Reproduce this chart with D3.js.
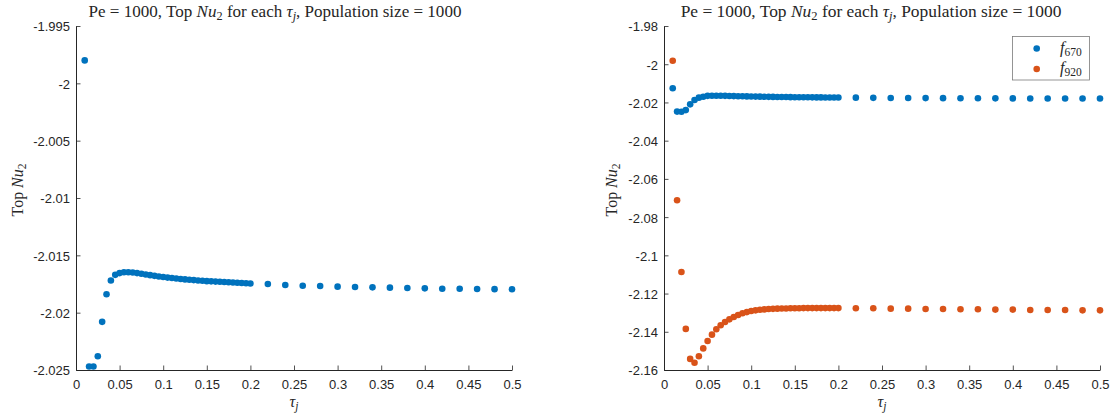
<!DOCTYPE html>
<html>
<head>
<meta charset="utf-8">
<script src="https://cdn.jsdelivr.net/npm/d3@7"></script>
<style>
  body { margin: 0; background: #fff; }
  svg { display: block; }
  .tick text { font-family: "Liberation Sans", Arial, sans-serif; font-size: 13px; fill: #262626; }
  .tex { font-family: "Liberation Serif", "DejaVu Serif", serif; fill: #262626; }
</style>
</head>
<body>
<svg id="chart" width="1112" height="415"></svg>
<script>
// Relaxation time values tau_j
const tau = [
  0.01, 0.015, 0.02, 0.025, 0.03, 0.035, 0.04, 0.045, 0.05, 0.055,
  0.06, 0.065, 0.07, 0.075, 0.08, 0.085, 0.09, 0.095, 0.1, 0.105,
  0.11, 0.115, 0.12, 0.125, 0.13, 0.135, 0.14, 0.145, 0.15, 0.155,
  0.16, 0.165, 0.17, 0.175, 0.18, 0.185, 0.19, 0.195, 0.2,
  0.22, 0.24, 0.26, 0.28, 0.3, 0.32, 0.34, 0.36, 0.38, 0.4,
  0.42, 0.44, 0.46, 0.48, 0.5
];

// Best Nu2 over all candidate functions, per tau_j
const topNu = [
  -1.9980, -2.0247, -2.0247, -2.0238, -2.0208, -2.0184, -2.0172, -2.0167, -2.01655, -2.01648,
  -2.01647, -2.01650, -2.01655, -2.01661, -2.01667, -2.01673, -2.01679, -2.01684, -2.01689, -2.01694,
  -2.01698, -2.01702, -2.01706, -2.01710, -2.01713, -2.01716, -2.01719, -2.01722, -2.01725, -2.01727,
  -2.01729, -2.01731, -2.01733, -2.01735, -2.01737, -2.01739, -2.01741, -2.01743, -2.01745,
  -2.01750, -2.01759, -2.01765, -2.01767, -2.01773, -2.01776, -2.01779, -2.01782, -2.01785, -2.01788,
  -2.01791, -2.01792, -2.01794, -2.01795, -2.01796
];

// Nu2 for function f670
const f670 = [
  -2.0126, -2.0248, -2.0249, -2.0240, -2.0210, -2.0187, -2.0175, -2.0170, -2.01655, -2.01648,
  -2.01647, -2.01650, -2.01655, -2.01661, -2.01667, -2.01673, -2.01679, -2.01684, -2.01689, -2.01694,
  -2.01698, -2.01702, -2.01706, -2.01710, -2.01713, -2.01716, -2.01719, -2.01722, -2.01725, -2.01727,
  -2.01729, -2.01731, -2.01733, -2.01735, -2.01737, -2.01739, -2.01741, -2.01743, -2.01745,
  -2.01750, -2.01759, -2.01765, -2.01767, -2.01773, -2.01776, -2.01779, -2.01782, -2.01785, -2.01788,
  -2.01791, -2.01792, -2.01794, -2.01795, -2.01796
];

// Nu2 for function f920
const f920 = [
  -1.9982, -2.0712, -2.1087, -2.1385, -2.1542, -2.1562, -2.1528, -2.1487, -2.1448, -2.1415,
  -2.1387, -2.1366, -2.1349, -2.1335, -2.1323, -2.1312, -2.1303, -2.1297, -2.1291, -2.1288,
  -2.1285, -2.1283, -2.1281, -2.1280, -2.1279, -2.1278, -2.1278, -2.1277, -2.1277, -2.1277,
  -2.1276, -2.1276, -2.1276, -2.1276, -2.1276, -2.1276, -2.1276, -2.1276, -2.1276,
  -2.1277, -2.1277, -2.1279, -2.1279, -2.1281, -2.1281, -2.1282, -2.1282, -2.1284, -2.1284,
  -2.1286, -2.1286, -2.1286, -2.1288, -2.1288
];

const xTicks = [0, 0.05, 0.1, 0.15, 0.2, 0.25, 0.3, 0.35, 0.4, 0.45, 0.5];
const yTicksLeft = [-2.025, -2.02, -2.015, -2.01, -2.005, -2, -1.995];
const yTicksRight = [-2.16, -2.14, -2.12, -2.1, -2.08, -2.06, -2.04, -2.02, -2, -1.98];

const seriesNames = ["670", "920"];
const colors = ["#0072BD", "#D95319"];

const svg = d3.select("#chart");
const axisColor = "#262626";
const fmt = d => String(+d.toFixed(4));

// Writes "Pe = 1000, Top Nu_2 for each tau_j, Population size = 1000"
function titleText(sel) {
  sel.append("tspan").text("Pe = 1000, Top ");
  sel.append("tspan").attr("font-style", "italic").text("Nu");
  sel.append("tspan").attr("font-size", "0.72em").attr("dy", 3).text("2");
  sel.append("tspan").attr("dy", -3).text(" for each ");
  sel.append("tspan").attr("font-style", "italic").text("τ");
  sel.append("tspan").attr("font-style", "italic").attr("font-size", "0.72em").attr("dy", 3).text("j");
  sel.append("tspan").attr("dy", -3).text(", Population size = 1000");
}

// Scale a text element's font so its rendered width equals target
function fitWidth(t, base, target) {
  const w = t.node().getComputedTextLength();
  t.attr("font-size", base * target / w);
}

function drawPanel(p) {
  const x = d3.scaleLinear().domain([0, 0.5]).range([p.x0, p.x1]);
  const y = d3.scaleLinear().domain(p.yDomain).range([p.y1, p.y0]);
  const g = svg.append("g");

  // Bottom axis, ticks pointing inward
  const ax = g.append("g")
    .attr("transform", `translate(0,${p.y1})`)
    .call(d3.axisBottom(x).tickValues(xTicks).tickFormat(fmt).tickSizeInner(-4.5).tickSizeOuter(0).tickPadding(10));
  // Left axis, ticks pointing inward
  const ay = g.append("g")
    .attr("transform", `translate(${p.x0},0)`)
    .call(d3.axisLeft(y).tickValues(p.yTicks).tickFormat(fmt).tickSizeInner(-4.5).tickSizeOuter(0).tickPadding(6));
  [ax, ay].forEach(a => {
    a.select(".domain").attr("stroke", axisColor).attr("stroke-width", 1);
    a.selectAll(".tick line").attr("stroke", axisColor).attr("stroke-width", 0.8);
    a.selectAll(".tick text").attr("fill", axisColor);
  });
  ay.selectAll(".tick text").attr("dy", "0.38em");

  // Markers
  p.series.forEach(s => {
    g.append("g").selectAll("circle")
      .data(tau.map((t, k) => [t, s.values[k]]))
      .join("circle")
      .attr("cx", d => x(d[0]))
      .attr("cy", d => y(d[1]))
      .attr("r", 3.3)
      .attr("fill", s.color);
  });

  // Title
  const title = g.append("text").attr("class", "tex")
    .attr("x", p.titleX).attr("y", 17)
    .attr("text-anchor", "middle").attr("font-size", 15);
  titleText(title);
  fitWidth(title, 15, p.titleW);

  // x label
  const xl = g.append("text").attr("class", "tex")
    .attr("x", (p.x0 + p.x1) / 2).attr("y", 407)
    .attr("text-anchor", "middle").attr("font-size", 16);
  xl.append("tspan").attr("font-style", "italic").text("τ");
  xl.append("tspan").attr("font-style", "italic").attr("font-size", "0.72em").attr("dy", 3).text("j");

  // y label
  const yl = g.append("text").attr("class", "tex")
    .attr("transform", `translate(${p.ylabX},190) rotate(-90)`)
    .attr("text-anchor", "middle").attr("font-size", 15);
  yl.append("tspan").text("Top ");
  yl.append("tspan").attr("font-style", "italic").text("Nu");
  yl.append("tspan").attr("font-size", "0.72em").attr("dy", 3).text("2");
  fitWidth(yl, 15, 53);

  return { x, y, g };
}

drawPanel({
  x0: 76, x1: 512, y0: 26, y1: 370,
  yDomain: [-2.025, -1.995], yTicks: yTicksLeft,
  titleX: 275, titleW: 373, ylabX: 23,
  series: [{ values: topNu, color: colors[0] }]
});

drawPanel({
  x0: 664, x1: 1100, y0: 26, y1: 370,
  yDomain: [-2.16, -1.98], yTicks: yTicksRight,
  titleX: 871, titleW: 381, ylabX: 617,
  series: [{ values: f670, color: colors[0] }, { values: f920, color: colors[1] }]
});

// Legend
const lg = svg.append("g");
lg.append("rect")
  .attr("x", 1012.5).attr("y", 36.5).attr("width", 77).attr("height", 43.5)
  .attr("fill", "#fff").attr("stroke", "#7a7a7a").attr("stroke-width", 0.8);
seriesNames.forEach((n, i) => {
  const cy = 48.5 + i * 20.5;
  lg.append("circle").attr("cx", 1036.7).attr("cy", cy).attr("r", 3.3).attr("fill", colors[i]);
  const t = lg.append("text").attr("class", "tex")
    .attr("x", 1060).attr("y", cy + 4).attr("font-size", 16);
  t.append("tspan").attr("font-style", "italic").text("f");
  t.append("tspan").attr("font-size", "0.72em").attr("dy", 3).text(n);
});
</script>
</body>
</html>
